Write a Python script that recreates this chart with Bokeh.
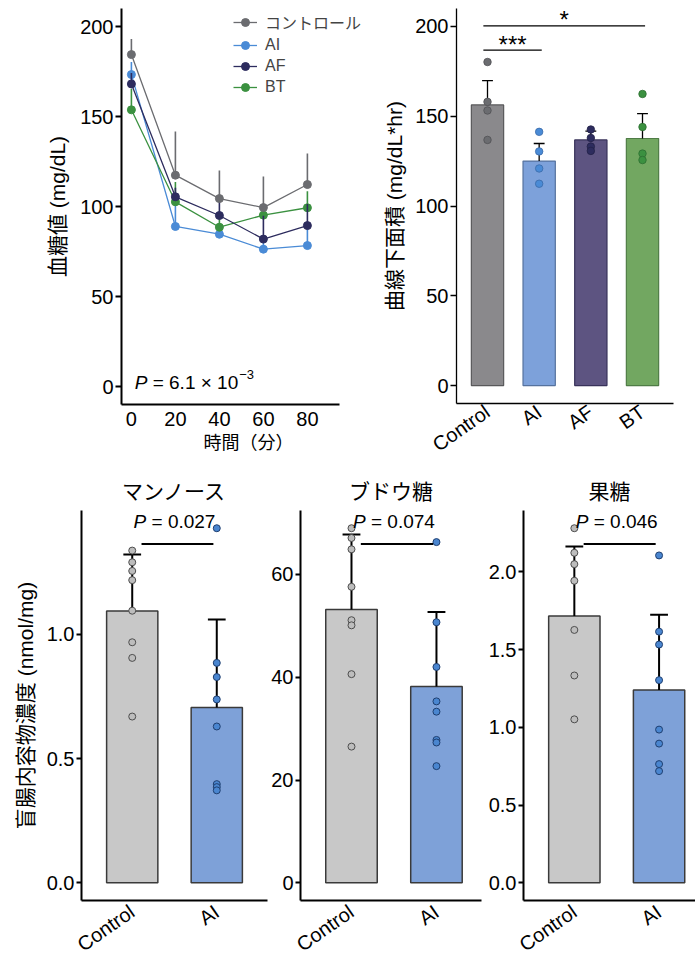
import math
from bokeh.plotting import figure
from bokeh.layouts import column, row
from bokeh.models import Range1d, FixedTicker, Legend, LegendItem, NumeralTickFormatter
from bokeh.embed import file_html
from bokeh.resources import INLINE
from bokeh.core.properties import value

FONT = "Liberation Sans, Noto Sans CJK JP"

# ------------------------------------------------------------------ data
time_min = [0, 20, 40, 60, 80]
glucose_names = ["コントロール", "AI", "AF", "BT"]
glucose_control = [184.4, 117.4, 104.4, 99.4, 112.2]
glucose_ai = [173.3, 88.9, 84.6, 76.3, 78.3]
glucose_af = [168.1, 105.4, 95.0, 81.9, 89.4]
glucose_bt = [153.7, 102.6, 88.5, 95.2, 99.3]
glucose_control_sem = [8.6, 24.3, 15.6, 17.3, 17.2]
glucose_ai_sem = [7.0, 14.0, 4.0, 5.0, 12.0]
glucose_af_sem = [6.0, 5.0, 9.0, 13.0, 12.0]
glucose_bt_sem = [11.7, 11.0, 5.0, 5.0, 9.2]
glucose_p_mantissa = "6.1 × 10"
glucose_p_exponent = "−3"

auc_groups = ["Control", "AI", "AF", "BT"]
auc_mean = [156.3, 125.0, 136.8, 137.6]
auc_sem = [13.5, 9.8, 4.9, 13.8]
auc_control = [180.2, 158.0, 153.2, 136.8]
auc_ai = [141.3, 130.4, 120.9, 112.4]
auc_af = [142.6, 137.9, 133.1, 130.7]
auc_bt = [162.4, 144.0, 129.2, 125.6]
auc_sig_pairs = [(0, 1, "***"), (0, 3, "*")]

cecal_groups = ["Control", "AI"]
mannose_mean = [1.094, 0.705]
mannose_sd = [0.227, 0.355]
mannose_control = [1.337, 1.290, 1.255, 1.218, 1.095, 0.968, 0.905, 0.669]
mannose_ai = [1.427, 0.885, 0.828, 0.738, 0.629, 0.397, 0.385, 0.372]
mannose_p = "0.027"

glucose2_mean = [53.2, 38.2]
glucose2_sd = [14.6, 14.5]
glucose2_control = [69.0, 67.1, 64.9, 57.6, 51.1, 50.1, 40.6, 26.5]
glucose2_ai = [66.3, 50.7, 42.0, 35.3, 33.3, 27.8, 27.3, 22.7]
glucose2_p = "0.074"

fructose_mean = [1.716, 1.239]
fructose_sd = [0.446, 0.485]
fructose_control = [2.280, 2.122, 2.049, 1.942, 1.626, 1.333, 1.051]
fructose_ai = [2.105, 1.615, 1.532, 1.303, 0.985, 0.895, 0.763, 0.718]
fructose_p = "0.046"

# ------------------------------------------------------------------ styles
LINE_COLORS = ["#6b6c70", "#4a8bd6", "#2d2c5e", "#3b9140"]
AUC_FILL = ["#8a898c", "#7da1da", "#5d5481", "#72a761"]
AUC_EDGE = ["#58585a", "#55729e", "#38325a", "#4f7c46"]
AUC_PT_FILL = ["#6b6c70", "#4a8bd6", "#2d2c5e", "#3b9140"]
AUC_PT_EDGE = ["#505154", "#3a6aa8", "#222146", "#2d6e31"]
CEC_FILL = ["#c8c8c8", "#7ea1d8"]
CEC_PT_FILL = ["#bdbdbd", "#4a86d0"]
CEC_PT_EDGE = ["#4d4d4d", "#1f3f70"]

CW = {'P': 0.667, ' ': 0.278, '=': 0.584, '.': 0.278, '×': 0.584, '−': 0.584}


def tw(s, fs):
    return sum(CW.get(c, 0.556) for c in s) * fs


def base_fig(fw, fh, left, right, top, bottom, xr, yr, axis_w=2.0):
    p = figure(frame_width=fw, frame_height=fh, min_border_left=left,
               min_border_right=right, min_border_top=top, min_border_bottom=bottom,
               x_range=Range1d(*xr), y_range=Range1d(*yr),
               output_backend="svg", toolbar_location=None)
    p.xgrid.visible = False
    p.ygrid.visible = False
    p.outline_line_color = None
    for ax in p.axis:
        ax.axis_line_width = axis_w
        ax.axis_line_color = "black"
        ax.major_label_text_font = FONT
        ax.major_label_text_color = "black"
        ax.axis_label_text_font = FONT
        ax.axis_label_text_font_style = "normal"
        ax.axis_label_text_color = "black"
        ax.minor_tick_line_color = None
    p.xaxis.major_tick_line_color = None
    p.xaxis.major_tick_out = 0
    p.xaxis.major_tick_in = 0
    p.yaxis.major_tick_in = 0
    p.yaxis.major_tick_out = 6
    p.yaxis.major_tick_line_width = axis_w
    p.yaxis.major_label_text_font_size = "20px"
    p.yaxis.major_label_standoff = 2
    return p


def p_text(p, x, y, rest, fs, start_offset, y_off=0):
    """italic P followed by ' = ...' (space width added explicitly)."""
    p.text(x=[x], y=[y], text=["P"], text_font=value(FONT), text_font_size=f"{fs}px",
           text_font_style="italic", text_baseline="middle", text_align="left",
           x_offset=start_offset, y_offset=y_off)
    p.text(x=[x], y=[y], text=["= " + rest], text_font=value(FONT),
           text_font_size=f"{fs}px", text_baseline="middle", text_align="left",
           x_offset=start_offset + tw("P ", fs), y_offset=y_off)
    return start_offset + tw("P = " + rest, fs)


# ------------------------------------------------------------------ panel 1: glucose time course
# frame is wider than the drawn axis so the legend can overhang the axis end
p1 = base_fig(254, 396, 121, 5, 8, 61, (-4.5, -4.5 + 254 / 2.2), (-10, 210))
p1.xaxis.bounds = (-4.5, 94.5)
p1.xaxis.ticker = FixedTicker(ticks=time_min)
p1.yaxis.ticker = FixedTicker(ticks=[0, 50, 100, 150, 200])
p1.xaxis.major_label_text_font_size = "20px"
p1.xaxis.major_label_standoff = 7
p1.xaxis.axis_label = "時間（分）"
p1.xaxis.axis_label_text_font_size = "18px"
p1.xaxis.axis_label_standoff = 4
p1.yaxis.axis_label = "血糖値 (mg/dL)"
p1.yaxis.axis_label_text_font_size = "21px"
p1.yaxis.axis_label_standoff = 8

series = [glucose_control, glucose_ai, glucose_af, glucose_bt]
sems = [glucose_control_sem, glucose_ai_sem, glucose_af_sem, glucose_bt_sem]
renderers = {}
for i in [1, 3, 2, 0]:
    c = LINE_COLORS[i]
    tops = [m + e for m, e in zip(series[i], sems[i])]
    p1.segment(x0=time_min, y0=series[i], x1=time_min, y1=tops, line_color=c, line_width=1.6)
    lr = p1.line(time_min, series[i], line_color=c, line_width=1.3)
    sr = p1.scatter(time_min, series[i], size=8, fill_color=c, line_color=c)
    renderers[i] = [lr, sr]

legend = Legend(items=[LegendItem(label=glucose_names[i], renderers=renderers[i]) for i in range(4)],
                location=(112, 307))
legend.border_line_color = None
legend.background_fill_alpha = 0
legend.label_text_font = FONT
legend.label_text_font_size = "16px"
legend.glyph_width = 24
legend.glyph_height = 20
legend.label_height = 20
legend.spacing = 1
legend.padding = 0
legend.margin = 0
legend.label_standoff = 8
p1.add_layout(legend)

fs = 19
end = p_text(p1, 1.5, 2, glucose_p_mantissa, fs, 0)
p1.text(x=[1.5], y=[2], text=[glucose_p_exponent], text_font=value(FONT),
        text_font_size="13px", text_baseline="middle", text_align="left",
        x_offset=end + 1, y_offset=-8)

# ------------------------------------------------------------------ panel 2: AUC bars
p2 = base_fig(217, 395, 76, 22, 8, 62, (0.4, 4.6), (-10, 210), axis_w=1.3)
xs = [1, 2, 3, 4]
p2.xaxis.ticker = FixedTicker(ticks=xs)
p2.xaxis.major_label_overrides = {x: g for x, g in zip(xs, auc_groups)}
p2.xaxis.major_label_orientation = math.radians(35)
p2.xaxis.major_label_text_font_size = "20px"
p2.xaxis.major_label_standoff = 6
p2.yaxis.ticker = FixedTicker(ticks=[0, 50, 100, 150, 200])
p2.yaxis.axis_label = "曲線下面積 (mg/dL*hr)"
p2.yaxis.axis_label_text_font_size = "21px"
p2.yaxis.axis_label_standoff = 6

p2.vbar(x=xs, top=auc_mean, bottom=0, width=0.625, fill_color=AUC_FILL,
        line_color=AUC_EDGE, line_width=1.2)
tops = [m + e for m, e in zip(auc_mean, auc_sem)]
cap = 0.105
p2.segment(x0=xs, y0=auc_mean, x1=xs, y1=tops, line_color="black", line_width=1.3)
p2.segment(x0=[x - cap for x in xs], y0=tops, x1=[x + cap for x in xs], y1=tops,
           line_color="black", line_width=1.3)
for i, pts in enumerate([auc_control, auc_ai, auc_af, auc_bt]):
    p2.scatter([xs[i]] * len(pts), pts, size=7.5, fill_color=AUC_PT_FILL[i],
               line_color=AUC_PT_EDGE[i], line_width=0.8)

all_pts = auc_control + auc_ai + auc_af + auc_bt
span2 = 220
for k, (a, b, lab) in enumerate(auc_sig_pairs):
    ys = max(all_pts) + 0.03 * span2 + k * 0.0615 * span2
    p2.segment(x0=[xs[a] - 0.08], y0=[ys], x1=[xs[b] + 0.05], y1=[ys], line_color="black",
               line_width=1.3)
    p2.text(x=[(xs[a] - 0.08 + xs[b] + 0.05) / 2], y=[ys], text=[lab], text_font=value(FONT),
            text_font_size="24px", text_align="center", text_baseline="alphabetic", y_offset=-6)


# ------------------------------------------------------------------ bottom panels
def cecal_panel(title, mean, sd, pts_ctrl, pts_ai, p_label, fw, left, right, xr, ticks,
                fmt=None, ylabel=None):
    all_v = pts_ctrl + pts_ai + [m + s for m, s in zip(mean, sd)]
    ymax = max(all_v)
    y0, y1 = -0.05 * ymax, 1.05 * ymax
    p = base_fig(fw, 390, left, right, 43, 57, xr, (y0, y1))
    p.title.text = title
    p.title.align = "center"
    p.title.text_font = FONT
    p.title.text_font_size = "21px"
    p.title.text_font_style = "normal"
    p.title.text_color = "black"
    p.title.standoff = 15
    bx = [1, 2]
    p.xaxis.ticker = FixedTicker(ticks=bx)
    p.xaxis.major_label_overrides = {x: g for x, g in zip(bx, cecal_groups)}
    p.xaxis.major_label_orientation = math.radians(35)
    p.xaxis.major_label_text_font_size = "20px"
    p.xaxis.major_label_standoff = 9
    p.yaxis.ticker = FixedTicker(ticks=ticks)
    p.yaxis.major_tick_out = 5
    if fmt:
        p.yaxis.formatter = NumeralTickFormatter(format=fmt)
    if ylabel:
        p.yaxis.axis_label = ylabel
        p.yaxis.axis_label_text_font_size = "21px"
        p.yaxis.axis_label_standoff = 7
    p.vbar(x=bx, top=mean, bottom=0, width=0.606, fill_color=CEC_FILL, line_color="#3a3a3a",
           line_width=1.5)
    tops = [m + s for m, s in zip(mean, sd)]
    cap = 0.105
    p.segment(x0=bx, y0=mean, x1=bx, y1=tops, line_color="black", line_width=2)
    p.segment(x0=[x - cap for x in bx], y0=tops, x1=[x + cap for x in bx], y1=tops,
              line_color="black", line_width=2)
    for i, pts in enumerate([pts_ctrl, pts_ai]):
        p.scatter([bx[i]] * len(pts), pts, size=7, fill_color=CEC_PT_FILL[i],
                  line_color=CEC_PT_EDGE[i], line_width=1)
    span = y1 - y0
    yl = y1 - 33.6 / 390 * span
    p.segment(x0=[1.11], y0=[yl], x1=[1.96], y1=[yl], line_color="black", line_width=2)
    yt = y1 - 11.3 / 390 * span
    fs = 19
    start = -tw("P = " + p_label, fs) / 2
    p_text(p, 1.5, yt, p_label, fs, start)
    return p


pa = cecal_panel("マンノース", mannose_mean, mannose_sd, mannose_control, mannose_ai, mannose_p,
                 186, 81, 1, (0.4, 2.6), [0, 0.5, 1.0], "0.0", "盲腸内容物濃度 (nmol/mg)")
pb = cecal_panel("ブドウ糖", glucose2_mean, glucose2_sd, glucose2_control, glucose2_ai, glucose2_p,
                 181, 32, 1, (0.4, 2.53), [0, 20, 40, 60])
pc = cecal_panel("果糖", fructose_mean, fructose_sd, fructose_control, fructose_ai, fructose_p,
                 172, 41, 0, (0.4, 2.43), [0, 0.5, 1.0, 1.5, 2.0], "0.0")

layout = column(row(p1, p2), row(pa, pb, pc))
open("out.html", "w").write(file_html(layout, INLINE))
